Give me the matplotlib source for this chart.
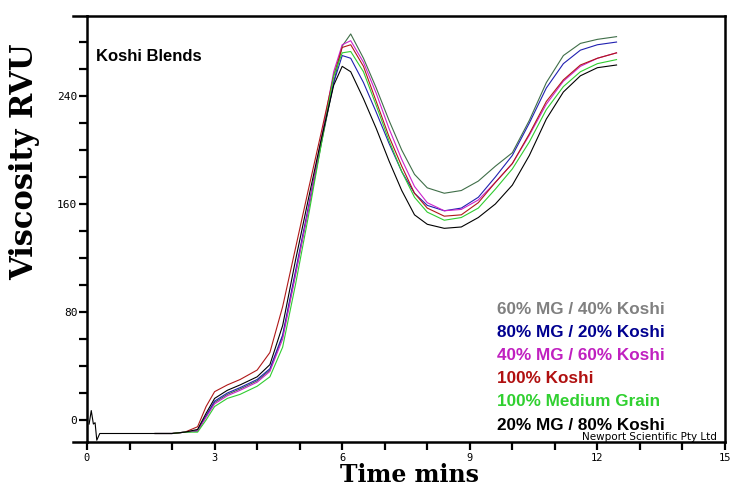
import matplotlib
matplotlib.use("Agg")
import matplotlib.pyplot as plt
from matplotlib.ticker import MultipleLocator

# time grid (mins) shared by the blend curves
t = [1.6, 2.0, 2.3, 2.6, 2.8, 3.0, 3.3, 3.6, 4.0, 4.3, 4.6, 4.9, 5.2, 5.5, 5.8,
     6.0, 6.2, 6.5, 6.8, 7.1, 7.4, 7.7, 8.0, 8.4, 8.8, 9.2, 9.6, 10.0, 10.4,
     10.8, 11.2, 11.6, 12.0, 12.45]

mg60 = [-10, -10, -9, -8, 3, 13, 19, 23, 29, 37, 62, 108, 155, 203, 250,
        277, 286, 268, 246, 222, 200, 182, 172, 168, 170, 177, 188, 198, 222,
        250, 270, 279, 282, 284]
mg80 = [-10, -10, -9, -8, 3, 14, 20, 24, 30, 38, 63, 110, 157, 205, 250,
        270, 268, 250, 228, 205, 184, 168, 159, 155, 157, 165, 180, 196, 220,
        246, 264, 274, 278, 280]
mg40 = [-10, -10, -9, -8, 2, 12, 18, 22, 28, 36, 60, 107, 155, 207, 258,
        278, 281, 265, 242, 216, 193, 173, 161, 155, 156, 163, 176, 190, 211,
        234, 251, 262, 268, 272]
koshi = [-10, -10, -9, -5, 10, 21, 26, 30, 37, 50, 84, 127, 170, 212, 255,
         276, 278, 262, 236, 210, 188, 168, 157, 151, 152, 161, 176, 190, 212,
         236, 252, 263, 268, 272]
medgrain = [-10, -10, -9, -9, 0, 10, 16, 19, 25, 32, 54, 100, 150, 203, 255,
            272, 273, 258, 233, 207, 184, 165, 154, 148, 150, 157, 171, 186, 206,
            230, 247, 258, 264, 267]
mg20 = [-10, -10, -9, -7, 5, 16, 22, 26, 32, 41, 70, 118, 163, 207, 248,
        262, 258, 238, 216, 192, 170, 152, 145, 142, 143, 150, 160, 174, 196,
        223, 243, 255, 261, 263]

# start-up spike recorded on the black run
t_start = [0.05, 0.1, 0.15, 0.19, 0.23, 0.3]
v_start = [-3, 7, -3, -2, -15, -10]

labels = ["60% MG / 40% Koshi", "80% MG / 20% Koshi", "40% MG / 60% Koshi",
          "100% Koshi", "100% Medium Grain", "20% MG / 80% Koshi"]
line_colors = ["#3f6e48", "#2020b0", "#cc22cc", "#b01818", "#30cc30", "#000000"]
text_colors = ["#808080", "#000090", "#c020c0", "#b01010", "#30d030", "#000000"]

fig = plt.figure(figsize=(7.32, 4.88), dpi=100)
ax = fig.add_axes([87 / 732, 46 / 488, 638 / 732, 426 / 488])

series = [mg60, mg80, mg40, koshi, medgrain, mg20]
for vals, c in zip(series, line_colors):
    if c == "#000000":
        ax.plot(t_start + t, v_start + vals, color=c, lw=0.8)
    else:
        ax.plot(t, vals, color=c, lw=0.8)

ax.set_xlim(0, 15)
ax.set_ylim(-16.3, 299.3)

ax.xaxis.set_major_locator(MultipleLocator(3))
ax.xaxis.set_minor_locator(MultipleLocator(1))
ax.yaxis.set_major_locator(MultipleLocator(80))
ax.yaxis.set_minor_locator(MultipleLocator(20))
ax.tick_params(which="both", direction="out", length=6, width=1.6)
ax.tick_params(axis="x", which="both", labelsize=7.5, pad=2)
ax.tick_params(axis="y", which="both", labelsize=8, pad=1)
for lab in ax.get_xticklabels() + ax.get_yticklabels():
    lab.set_family("DejaVu Sans Mono")

for s in ax.spines.values():
    s.set_linewidth(1.8)

# top and bottom lines run a little past the left axis
for yy in (0, 1):
    ax.plot([-0.022, 0], [yy, yy], transform=ax.transAxes, color="black",
            lw=1.8, clip_on=False)

ax.text(0.014, 0.905, "Koshi Blends", transform=ax.transAxes,
        family="Liberation Sans", weight="bold", fontsize=12, va="center")

for i, (lab, c) in enumerate(zip(labels, text_colors)):
    fig.text(497 / 732, 1 - (309 + i * 23.2) / 488, lab, color=c,
             family="Liberation Sans", weight="bold", fontsize=12.3,
             va="center")

fig.text(717 / 732, 1 - 437 / 488, "Newport Scientific Pty Ltd",
         fontsize=7.5, ha="right", va="center")

fig.text(25 / 732, 1 - 162 / 488, "Viscosity RVU", rotation=90,
         family="DejaVu Serif", weight="bold", fontsize=22,
         ha="center", va="center")
fig.text(410 / 732, 0.002, "Time mins", family="DejaVu Serif",
         weight="bold", fontsize=17, ha="center", va="bottom")

fig.savefig("out.png", dpi=100)
